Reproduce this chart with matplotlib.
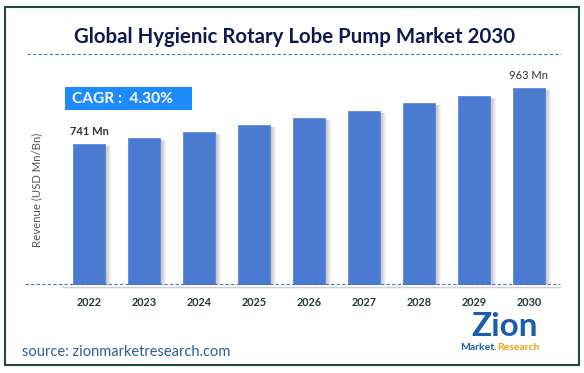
import matplotlib.pyplot as plt
from matplotlib.patches import Rectangle
from matplotlib.lines import Line2D

years = ["2022", "2023", "2024", "2025", "2026", "2027", "2028", "2029", "2030"]
revenue = [741, 764, 787, 816, 843, 872, 903, 932, 963]
first_label = "741 Mn"
last_label = "963 Mn"
cagr_text = "CAGR :  4.30%"
title = "Global Hygienic Rotary Lobe Pump Market 2030"

W, H = 584, 373


def fx(x):
    return x / W


def fy(y):
    return 1 - y / H


fig = plt.figure(figsize=(5.84, 3.73), dpi=100)
fig.patch.set_facecolor("white")

# bar area
ax = fig.add_axes([fx(55), fy(285), fx(560) - fx(55), fy(60) - fy(285)])
x = list(range(len(years)))
bw = 0.58

# soft shadow to the right of each bar
step = 1 / 55
for i, v in zip(x, revenue):
    for j in range(7):
        ax.add_patch(Rectangle((i + bw / 2 + j * step - step, 0), step, v - 8,
                               color="#555555", alpha=0.45 * (1 - j / 7), lw=0, zorder=1))

ax.bar(x, revenue, width=bw, color="#4b7bd1", edgecolor="#5b8ae0", linewidth=0.6, zorder=2)

ax.set_xlim(-0.618, 8.564)
ax.set_ylim(182, 1074)
for s in ax.spines.values():
    s.set_visible(False)
ax.set_yticks([])
ax.set_xticks(x, years)
ax.tick_params(axis="x", length=0, pad=9)
for lab in ax.get_xticklabels():
    lab.set_fontsize(7.8)
    lab.set_fontweight("bold")
    lab.set_color("#1f3838")
    lab.set_family("Lato")

ax.annotate(first_label, (x[0], revenue[0]), xytext=(0, 5), textcoords="offset points",
            ha="center", va="bottom", fontsize=8, fontweight="bold", color="#333333", family="Lato")
ax.annotate(last_label, (x[-1], revenue[-1]), xytext=(0, 5), textcoords="offset points",
            ha="center", va="bottom", fontsize=8, color="#333333", family="Lato")

# baseline lines
fig.add_artist(Line2D([fx(62), fx(560)], [fy(287), fy(287)], color="#d0d0d0", lw=1))
fig.add_artist(Line2D([fx(25), fx(560)], [fy(284), fy(284)], color="#4472c4", lw=0.8,
                      linestyle=(0, (3, 2))))

# title and underline
fig.text(fx(295), fy(37), title, ha="center", va="center", fontsize=14.7,
         fontweight="bold", color="#0c1a50", family="Lato")
fig.add_artist(Line2D([fx(27), fx(561)], [fy(54), fy(54)], color="#4472c4", lw=0.8,
                      linestyle=(0, (3, 2))))

# CAGR box
fig.add_artist(Rectangle((fx(65), fy(110)), fx(192) - fx(65), fy(87) - fy(110),
                         transform=fig.transFigure, color="#1e8cff", lw=0))
fig.text(fx(72), fy(99), cagr_text, ha="left", va="center", fontsize=11.2,
         fontweight="bold", color="white", family="Lato")

# y label
fig.text(fx(37), fy(190), "Revenue (USD Mn/Bn)", rotation=90, ha="center", va="center",
         fontsize=8.2, color="#555555", family="Lato")

# source
fig.text(fx(22), fy(352), "source: zionmarketresearch.com", ha="left", va="center",
         fontsize=10.5, color="#2f5f8f", family="Lato")

# logo
fig.text(fx(505), fy(327), "Zion", ha="center", va="center", fontsize=24,
         fontweight="bold", color="#1b5dab", family="Lato")
fig.text(fx(497), fy(348), "Market.", ha="right", va="center", fontsize=7.5,
         fontweight="bold", color="#1b5dab", family="Lato")
fig.text(fx(497), fy(348), "Research", ha="left", va="center", fontsize=7.5,
         fontweight="bold", color="#f39c12", family="Lato")

# frame
fig.add_artist(Rectangle((fx(5), fy(365)), fx(579) - fx(5), fy(7) - fy(365),
                         transform=fig.transFigure, fill=False, edgecolor="#1d4d3a", lw=1.5))

fig.savefig("out.png", dpi=100)
